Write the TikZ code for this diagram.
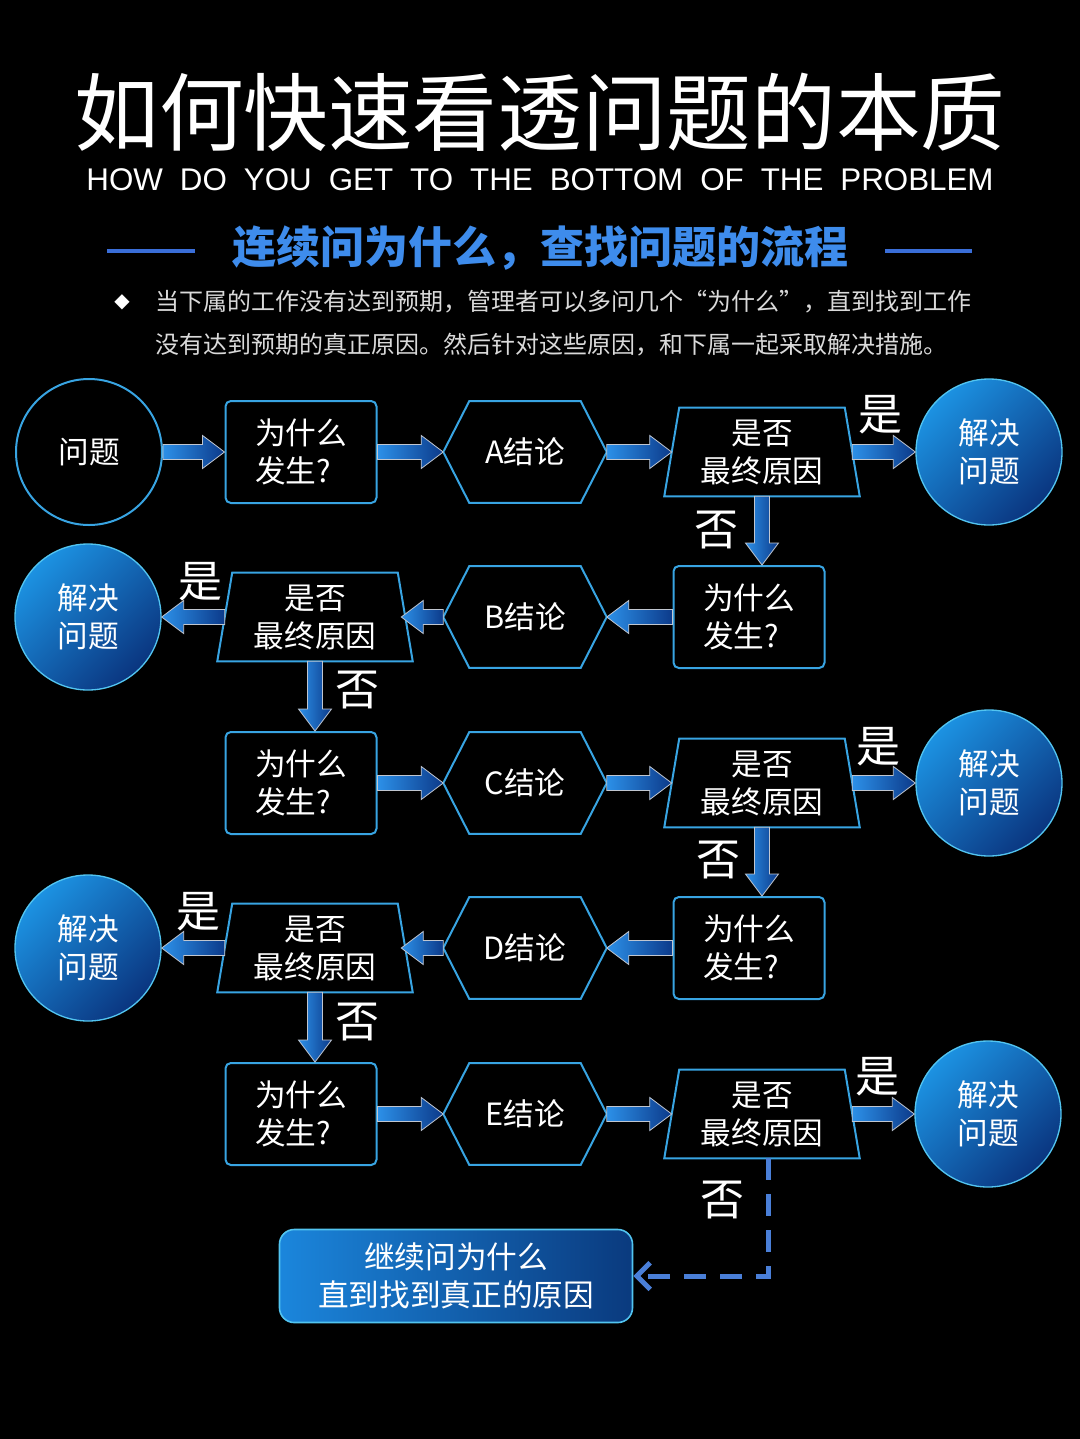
\documentclass[tikz,border=0pt]{standalone}
\usepackage{fontspec}
\setmainfont{Noto Sans CJK SC}
\newfontfamily\latinsf[WordSpace=1.95]{Liberation Sans}
\newfontfamily\dvsans{DejaVu Sans}
\usetikzlibrary{calc,arrows.meta}
\definecolor{edgec}{HTML}{38A4E2}
\definecolor{arrL}{HTML}{2C90E8}
\definecolor{arrR}{HTML}{0C3A8A}
\definecolor{arrB}{HTML}{C0C6D0}
\definecolor{solL}{HTML}{1C92E2}
\definecolor{solD}{HTML}{0A357F}
\definecolor{solE}{HTML}{52C4F0}
\definecolor{finL}{HTML}{1B86DC}
\definecolor{finR}{HTML}{0A3A7E}
\definecolor{headC}{HTML}{3E8CEC}
\definecolor{lineC}{HTML}{3A6ED8}
\definecolor{descC}{HTML}{DADADA}
\definecolor{dashC}{HTML}{4A7FD8}
\newcommand\rarr[2]{\path[blockarrow] let \p1=(#1), \p2=(#2) in (\x1,\y1+5.6pt) -- (\x2-16.5pt,\y1+5.6pt) -- (\x2-16.5pt,\y1+12.4pt) -- (\x2,\y1) -- (\x2-16.5pt,\y1-12.4pt) -- (\x2-16.5pt,\y1-5.6pt) -- (\x1,\y1-5.6pt) -- cycle;}
\newcommand\larr[2]{\path[blockarrow] let \p1=(#1), \p2=(#2) in (\x1,\y1+5.6pt) -- (\x2+16.5pt,\y1+5.6pt) -- (\x2+16.5pt,\y1+12.4pt) -- (\x2,\y1) -- (\x2+16.5pt,\y1-12.4pt) -- (\x2+16.5pt,\y1-5.6pt) -- (\x1,\y1-5.6pt) -- cycle;}
\newcommand\darr[2]{\path[blockarrow] let \p1=(#1), \p2=(#2) in (\x1-5.6pt,\y1) -- (\x1-5.6pt,\y2+16.5pt) -- (\x1-12.4pt,\y2+16.5pt) -- (\x1,\y2) -- (\x1+12.4pt,\y2+16.5pt) -- (\x1+5.6pt,\y2+16.5pt) -- (\x1+5.6pt,\y1) -- cycle;}
\newcommand\hexdraw[1]{\draw[hexline] (#1.west) -- ([xshift=19.5pt]#1.north west) -- ([xshift=-19.5pt]#1.north east) -- (#1.east) -- ([xshift=-19.5pt]#1.south east) -- ([xshift=19.5pt]#1.south west) -- cycle;}
\newcommand\trapdraw[1]{\draw[hexline] ([xshift=5.6pt]#1.north west) -- ([xshift=-5.6pt]#1.north east) -- ([xshift=5.6pt]#1.south east) -- ([xshift=-5.6pt]#1.south west) -- cycle;}
\begin{document}
\begin{tikzpicture}[x=0.75pt,y=-0.75pt,
  every node/.style={inner sep=0pt},
  nodefont/.style={font=\fontsize{23}{28.5}\selectfont, text=white},
  qbox/.style={nodefont, draw=edgec, line width=1.5pt, rounded corners=4pt, minimum width=113.25pt, minimum height=76.5pt, align=left},
  hexnode/.style={nodefont, minimum width=122.25pt, minimum height=75.75pt},
  hexline/.style={draw=edgec, line width=1.5pt, line join=miter},
  trapnode/.style={nodefont, minimum width=135pt, minimum height=66pt, align=center},
  startc/.style={circle, nodefont, draw=edgec, line width=1.5pt, minimum size=109.5pt},
  solc/.style={circle, nodefont, align=center, draw=solE, line width=1pt, top color=solL, bottom color=solD, shading angle=45, minimum size=109.5pt},
  lbl/.style={text=white, font=\fontsize{33}{33}\selectfont},
  blockarrow/.style={draw=arrB, line width=0.6pt, left color=arrL, right color=arrR},
]
\fill[black] (0,0) rectangle (1080,1439);
\useasboundingbox (0,0) rectangle (1080,1439);

% header
\node[text=white, font=\fontsize{63.5}{63.5}\selectfont] (title) at (540,112) {如何快速看透问题的本质};
\node[anchor=base, text=white, font=\latinsf\fontsize{23.5}{23.5}\selectfont] (sub) at (540,190) {HOW DO YOU GET TO THE BOTTOM OF THE PROBLEM};
\node[text=headC, font=\bfseries\fontsize{33}{33}\selectfont] (head) at (540,248) {连续问为什么，查找问题的流程};
\draw[lineC, line width=3pt] (107,251) -- (195,251);
\draw[lineC, line width=3pt] (885,251) -- (972,251);
\node[text=white, font=\dvsans\fontsize{15}{15}\selectfont] (bullet) at (122,302) {◆};
\node[anchor=west, align=left, text=descC, font=\fontsize{18}{32.25}\selectfont] (desc) at (155,323.5) {当下属的工作没有达到预期，管理者可以多问几个“为什么”，直到找到工作\\没有达到预期的真正原因。然后针对这些原因，和下属一起采取解决措施。};

% row 1
\node[startc] (q) at (89,452) {问题};
\node[qbox] (w1) at (301,452) {为什么\\发生?};
\node[hexnode] (c1) at (525,452) {A结论}; \hexdraw{c1}
\node[trapnode] (t1) at (762,452) {是否\\最终原因}; \trapdraw{t1}
\node[solc] (s1) at (989,452) {解决\\问题};
% row 2
\node[qbox] (w2) at (749,617) {为什么\\发生?};
\node[hexnode] (c2) at (525,617) {B结论}; \hexdraw{c2}
\node[trapnode] (t2) at (315,617) {是否\\最终原因}; \trapdraw{t2}
\node[solc] (s2) at (88,617) {解决\\问题};
% row 3
\node[qbox] (w3) at (301,783) {为什么\\发生?};
\node[hexnode] (c3) at (525,783) {C结论}; \hexdraw{c3}
\node[trapnode] (t3) at (762,783) {是否\\最终原因}; \trapdraw{t3}
\node[solc] (s3) at (989,783) {解决\\问题};
% row 4
\node[qbox] (w4) at (749,948) {为什么\\发生?};
\node[hexnode] (c4) at (525,948) {D结论}; \hexdraw{c4}
\node[trapnode] (t4) at (315,948) {是否\\最终原因}; \trapdraw{t4}
\node[solc] (s4) at (88,948) {解决\\问题};
% row 5
\node[qbox] (w5) at (301,1114) {为什么\\发生?};
\node[hexnode] (c5) at (525,1114) {E结论}; \hexdraw{c5}
\node[trapnode] (t5) at (762,1114) {是否\\最终原因}; \trapdraw{t5}
\node[solc] (s5) at (988,1114) {解决\\问题};
% final
\node[nodefont, align=center, draw=solE, line width=1.2pt, rounded corners=11pt, left color=finL, right color=finR, minimum width=264.75pt, minimum height=69.75pt] (final) at (456,1276) {继续问为什么\\直到找到真正的原因};

% arrows
\rarr{q.east}{w1.west} \rarr{w1.east}{c1.west} \rarr{c1.east}{t1.west} \rarr{t1.east}{s1.west}
\darr{t1.south}{w2.north}
\larr{w2.west}{c2.east} \larr{c2.west}{[xshift=-3pt]t2.east} \larr{t2.west}{s2.east}
\darr{t2.south}{w3.north}
\rarr{w3.east}{c3.west} \rarr{c3.east}{t3.west} \rarr{t3.east}{s3.west}
\darr{t3.south}{w4.north}
\larr{w4.west}{c4.east} \larr{c4.west}{[xshift=-3pt]t4.east} \larr{t4.west}{s4.east}
\darr{t4.south}{w5.north}
\rarr{w5.east}{c5.west} \rarr{c5.east}{t5.west} \rarr{t5.east}{s5.west}
\draw[dashC, line width=3.75pt, dash pattern=on 16pt off 11pt, -{Straight Barb[length=10pt,width=20pt]}] ([xshift=4.5pt]t5.south) |- (final.east);

% labels
\node[lbl] (y1) at (880,415) {是}; \node[lbl] (n1) at (716,530) {否};
\node[lbl] (y2) at (200,582) {是}; \node[lbl] (n2) at (357,690) {否};
\node[lbl] (y3) at (878,747) {是}; \node[lbl] (n3) at (718,860) {否};
\node[lbl] (y4) at (198,912) {是}; \node[lbl] (n4) at (357,1022) {否};
\node[lbl] (y5) at (877,1077) {是}; \node[lbl] (n5) at (722,1200) {否};
\end{tikzpicture}
\end{document}
